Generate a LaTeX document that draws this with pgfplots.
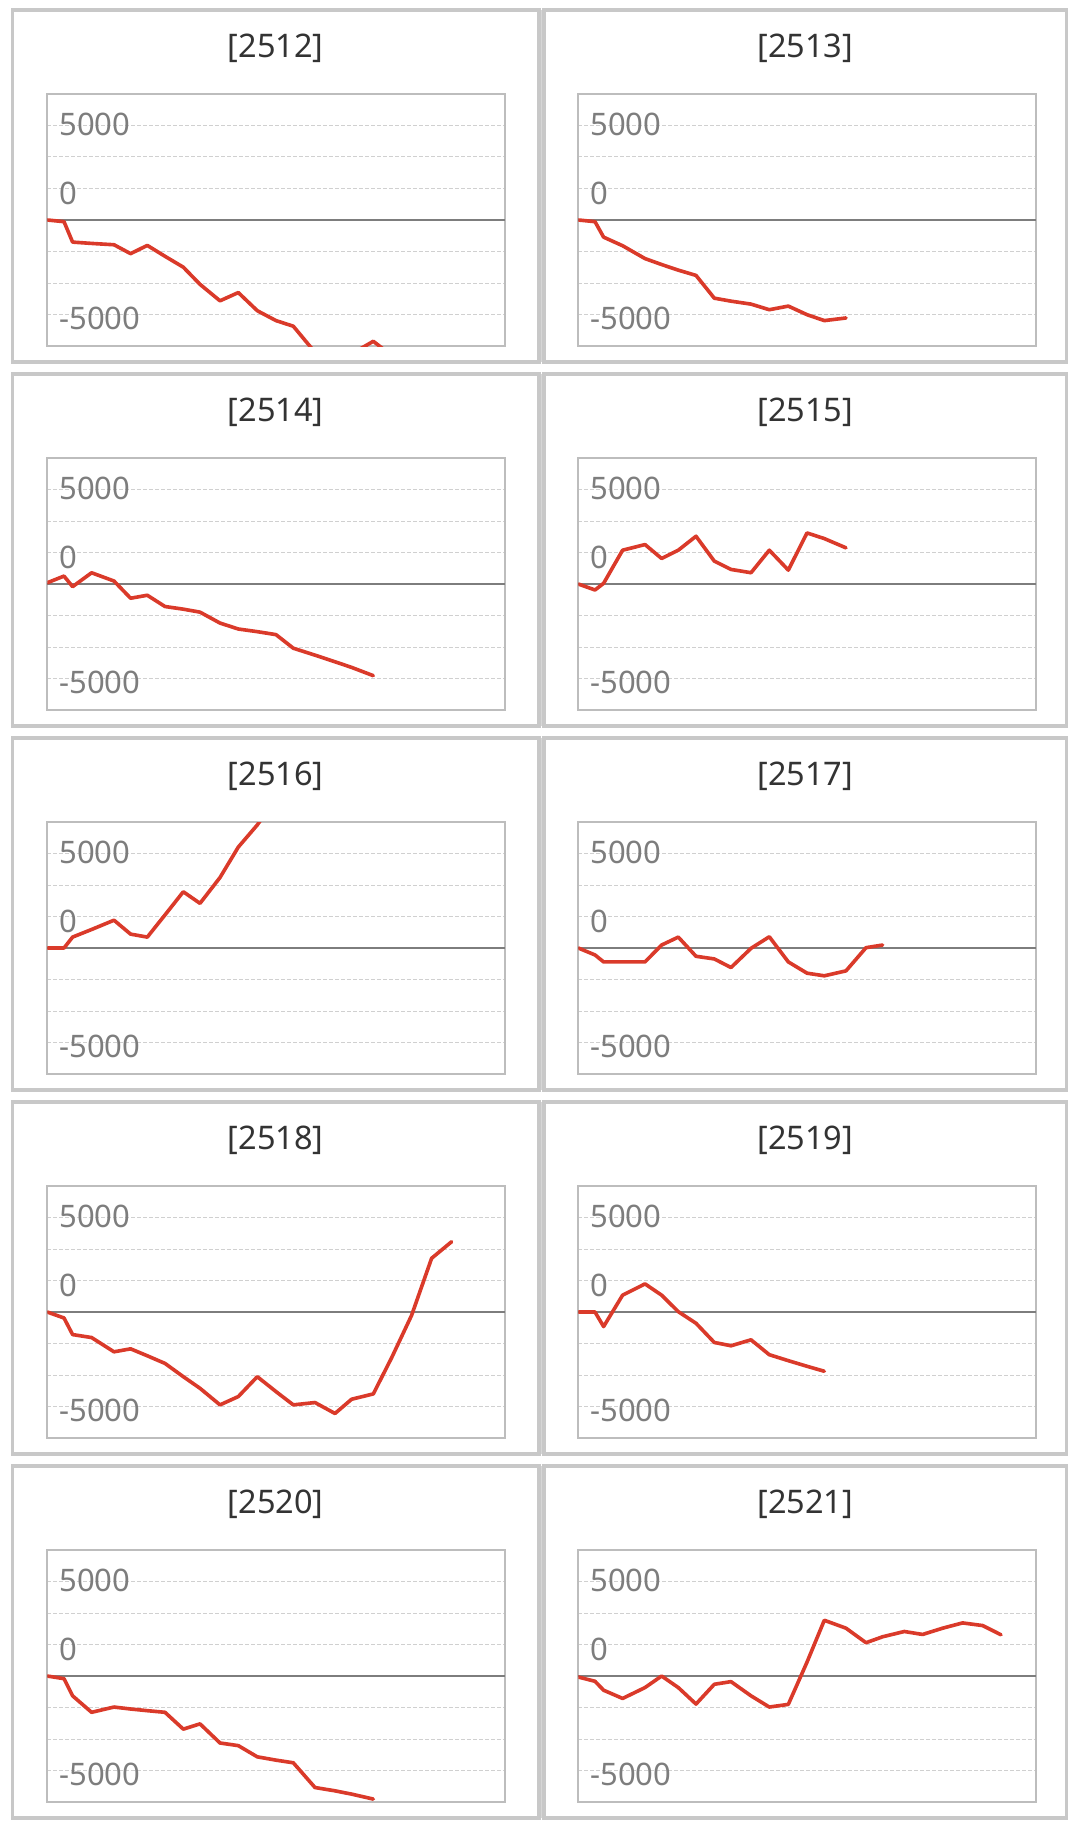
\documentclass[border=0pt]{standalone}
\usepackage{fontspec}
\setmainfont{Noto Sans}
\usepackage{pgfplots}
\pgfplotsset{compat=1.18}
\usepackage{pgfplotstable}

\definecolor{linered}{RGB}{218,58,42}
\definecolor{gridc}{RGB}{208,208,208}
\definecolor{plotborder}{RGB}{189,189,189}
\definecolor{panelborder}{RGB}{200,200,200}
\definecolor{zeroc}{RGB}{125,125,125}
\definecolor{tickc}{RGB}{125,125,125}
\definecolor{titlec}{RGB}{51,51,51}

\pgfplotstableread{
x y
0 0
16.7 -105
25.3 -1403
44.3 -1487
66.7 -1571
83.3 -2136
100 -1613
117.7 -2304
136 -2995
152.7 -4084
172.7 -5131
191 -4607
210 -5759
228.7 -6387
246 -6743
267.7 -8400
287.7 -8900
304.3 -8500
326 -7700
344.3 -8600
364.3 -9000
384.3 -9300
404.3 -9600
}\tA

\pgfplotstableread{
x y
0 0
16.7 -105
25.3 -1089
44.3 -1634
66.7 -2450
83.3 -2827
100 -3183
117.7 -3518
136 -4963
152.7 -5152
172.7 -5340
191 -5696
210 -5466
228.7 -6010
246 -6387
267.7 -6220
}\tB

\pgfplotstableread{
x y
0 80
16.7 504
25.3 -168
44.3 714
66.7 189
83.3 -903
100 -714
117.7 -1429
136 -1597
152.7 -1786
172.7 -2479
191 -2857
210 -3025
228.7 -3214
246 -4076
267.7 -4517
287.7 -4937
304.3 -5294
326 -5819
}\tC

\pgfplotstableread{
x y
0 0
16.7 -379
25.3 42
44.3 2147
66.7 2505
83.3 1621
100 2147
117.7 3032
136 1453
152.7 926
172.7 716
191 2147
210 884
228.7 3242
246 2884
267.7 2295
}\tD

\pgfplotstableread{
x y
0 0
16.7 0
25.3 693
44.3 1176
66.7 1765
83.3 882
100 693
117.7 2100
136 3571
152.7 2836
172.7 4475
191 6408
210 7815
228.7 9500
}\tE

\pgfplotstableread{
x y
0 0
16.7 -441
25.3 -882
44.3 -882
66.7 -882
83.3 189
100 693
117.7 -525
136 -693
152.7 -1239
172.7 -21
191 714
210 -882
228.7 -1597
246 -1765
267.7 -1450
287.7 21
304.3 189
}\tF

\pgfplotstableread{
x y
0 0
16.7 -379
25.3 -1432
44.3 -1621
66.7 -2526
83.3 -2337
100 -2779
117.7 -3263
136 -4105
152.7 -4842
172.7 -5895
191 -5368
210 -4105
228.7 -5053
246 -5895
267.7 -5747
287.7 -6442
304.3 -5537
326 -5200
344.3 -2905
364.3 -210
384.3 3410
404.3 4463
}\tG

\pgfplotstableread{
x y
0 0
16.7 0
25.3 -924
44.3 1071
66.7 1786
83.3 1071
100 21
117.7 -714
136 -1933
152.7 -2143
172.7 -1765
191 -2710
210 -3088
228.7 -3445
246 -3761
}\tH

\pgfplotstableread{
x y
0 0
16.7 -168
25.3 -1257
44.3 -2304
66.7 -1969
83.3 -2094
100 -2199
117.7 -2304
136 -3372
152.7 -3037
172.7 -4251
191 -4419
210 -5131
228.7 -5340
246 -5508
267.7 -7079
287.7 -7288
304.3 -7497
326 -7812
}\tI

\pgfplotstableread{
x y
0 -63
16.7 -335
25.3 -901
44.3 -1424
66.7 -733
83.3 0
100 -733
117.7 -1780
136 -524
152.7 -356
172.7 -1257
191 -1969
210 -1801
228.7 880
246 3539
267.7 3037
287.7 2115
304.3 2492
326 2827
344.3 2639
364.3 3037
384.3 3372
404.3 3204
422.7 2618
}\tJ

\pgfplotsset{panel/.style={
  scale only axis, width=183.08pt, height=100.8pt,
  anchor=north west,
  xmin=0, xmax=457.7, ymin=-8000, ymax=8000,
  axis line style={draw=plotborder, line width=0.8pt},
  xtick=\empty,
  ytick={-6220,1678,6076}, yticklabels={-5000,0,5000},
  major tick length=0pt, minor tick length=0pt,
  yticklabel style={anchor=west, xshift=4.6pt, inner sep=0pt,
     font=\fontsize{12.4}{14}\selectfont, text=tickc},
  minor ytick={-6000,-4000,-2000,2000,4000,6000},
  yminorgrids=true,
  minor grid style={draw=gridc, line width=0.4pt, dash pattern=on 1.4pt off 1pt},
  extra y ticks={0}, extra y tick labels={},
  extra y tick style={grid=major, major grid style={draw=zeroc, line width=1pt, solid}},
  clip=true,
}}

\newcommand\panelplot[2]{%
\begin{axis}[panel, at={(#1)}]
\addplot[linered, line width=1.45pt, line join=round, line cap=round] table[x=x,y=y] {#2};
\end{axis}}

\begin{document}
\begin{tikzpicture}
\begin{scope}[x=0.4pt,y=-0.4pt]
\useasboundingbox (0,0) rectangle (1077,1831);
\foreach \r/\tl/\tr [count=\i from 0] in {0/2512/2513,1/2514/2515,2/2516/2517,3/2518/2519,4/2520/2521}{
  \pgfmathsetmacro{\T}{94+364*\r}
  \fill[panelborder!75] (539,\T-84) rectangle (544,\T+268);
  \draw[panelborder, line width=1.3pt] (12.5,\T-84) rectangle (539,\T+268);
  \draw[panelborder, line width=1.3pt] (544,\T-84) rectangle (1066.5,\T+268);
  \node[text=titlec, font=\fontsize{13}{15}\selectfont] at (275.75,\T-46) {[\tl]};
  \node[text=titlec, font=\fontsize{13}{15}\selectfont] at (805.25,\T-46) {[\tr]};
}
\coordinate (L0) at (47.3,94);
\coordinate (R0) at (578.3,94);
\coordinate (L1) at (47.3,458);
\coordinate (R1) at (578.3,458);
\coordinate (L2) at (47.3,822);
\coordinate (R2) at (578.3,822);
\coordinate (L3) at (47.3,1186);
\coordinate (R3) at (578.3,1186);
\coordinate (L4) at (47.3,1550);
\coordinate (R4) at (578.3,1550);
\end{scope}
\panelplot{L0}{\tA}
\panelplot{R0}{\tB}
\panelplot{L1}{\tC}
\panelplot{R1}{\tD}
\panelplot{L2}{\tE}
\panelplot{R2}{\tF}
\panelplot{L3}{\tG}
\panelplot{R3}{\tH}
\panelplot{L4}{\tI}
\panelplot{R4}{\tJ}
\end{tikzpicture}
\end{document}
